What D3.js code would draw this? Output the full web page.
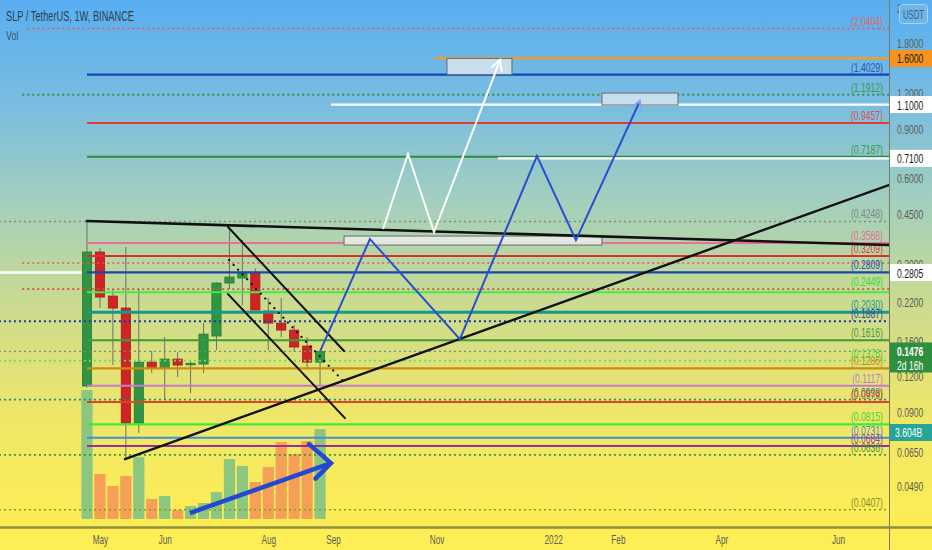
<!DOCTYPE html>
<html><head><meta charset="utf-8">
<script src="https://cdn.jsdelivr.net/npm/d3@7"></script>
<style>
body{margin:0;background:#fdee55;}
svg{display:block;font-family:"Liberation Sans",Arial,sans-serif;}
</style>
</head><body>
<svg id="c" width="932" height="550"></svg>
<script>
// ---------- DATA ----------
const title = "SLP / TetherUS, 1W, BINANCE";
const weekIdx = d3.range(19); // weeks from 2021-04-26
const opens  = [0.1114,0.3314,0.2316,0.2101,0.0824,0.1353,0.1289,0.1387,0.1332,0.1332,0.1673,0.2575,0.2682,0.2793,0.2050,0.1859,0.1756,0.1542,0.1353];
const highs  = [0.4264,0.3423,0.2432,0.3451,0.2452,0.1481,0.1659,0.1469,0.1376,0.1859,0.2596,0.4061,0.3653,0.2900,0.2279,0.2279,0.1829,0.1659,0.1481];
const lows   = [0.1100,0.2101,0.1321,0.0620,0.0760,0.1238,0.0994,0.1198,0.1052,0.1238,0.1493,0.2452,0.2152,0.2067,0.1493,0.1659,0.1469,0.1300,0.1114];
const closes = [0.3314,0.2297,0.2101,0.0824,0.1353,0.1289,0.1387,0.1321,0.1340,0.1700,0.2575,0.2704,0.2793,0.2067,0.1859,0.1756,0.1530,0.1353,0.1476];
const volumes= [5.17,1.80,1.32,1.72,2.48,0.80,0.92,0.36,0.52,0.64,1.08,2.40,2.12,1.48,2.08,3.08,2.60,3.12,3.604]; // billions

const timeTickIdx   = [1,6,14,19,27,36,41,49,58];
const timeTickLabel = ["May","Jun","Aug","Sep","Nov","2022","Feb","Apr","Jun"];
const priceTicks = [2.4,1.8,1.2,0.9,0.6,0.45,0.3,0.22,0.16,0.12,0.09,0.065,0.049];

// horizontal levels (price, label, start week index, end week index)
const levelPrices = [2.0404,1.6000,1.4029,1.1912,1.1000,0.9457,0.7187,0.7100,0.4248,0.3568,0.3209,0.3030,0.2809,0.2805,0.2449,0.2390,0.2030,0.1887,0.1616,0.1476,0.1370,0.1286,0.1117,0.0998,0.0979,0.0815,0.0731,0.0684,0.0636,0.0407];
const levelLabels = ["(2.0404)","","(1.4029)","(1.1912)","","(0.9457)","(0.7187)","","(0.4248)","(0.3568)","(0.3209)","","(0.2809)","","(0.2449)","","(0.2030)","(0.1887)","(0.1616)","","(0.1376)","(0.1286)","(0.1117)","(0.0998)","(0.0979)","(0.0815)","(0.0731)","(0.0684)","(0.0636)","(0.0407)"];
const levelStart  = [-4.6,26.87,0,-5,18.84,0,0,31.74,-6.8,0,0,-5,0,-6.8,-5,0,0,-6.8,0,-6.8,-6.8,0,0,-6.8,0,0,0,0,-6.8,-6.8];
const levelEnd    = [62,62,62,62,62,62,62,62,62,62,62,62,62,-0.4,62,62,62,62,62,62,62,62,62,62,62,62,62,62,62,62];

// trend lines [i1,p1,i2,p2]
const trendTop     = [0,0.4264,61.93,0.3507];
const trendRise    = [2.93,0.0615,61.93,0.5715];
const chanUpper    = [10.89,0.4061,19.85,0.1481];
const chanLower    = [10.89,0.2354,19.92,0.0858];
const chanDotted   = [10.97,0.3105,20.0,0.1132];

// projection paths
const bluePathIdx   = [18,21.85,28.8,34.75,37.76,42.7];
const bluePathPrice = [0.1476,0.3683,0.1632,0.7236,0.3653,1.132];
const whitePathIdx  = [22.86,24.79,26.8,31.9];
const whitePathPrice= [0.3995,0.7355,0.3899,1.580];

// boxes [i1,i2,pTop,pBottom]
const boxes = [[27.8,32.82,1.6,1.4029],[39.77,45.64,1.208,1.0958],[19.85,39.77,0.3774,0.3507]];

// volume arrow (week idx, volume B)
const volArrowIdx = [7.95,18.84];
const volArrowVol = [0.24,2.24];

// axis badges
const badgePrices = [1.6,1.1,0.71,0.2805];
const badgeLabels = ["1.6000","1.1000","0.7100","0.2805"];
const lastPrice = 0.1476, lastLabel = "0.1476", countdown = "2d 16h";
const lastVolLabel = "3.604B";

// ---------- SCALES ----------
const W=932,H=550, plotR=889, plotB=527;
const x = d3.scaleLinear().domain([0,58]).range([87,838]);
const y = d3.scaleLog().domain([1.8,0.049]).range([44,487]);
const yv = d3.scaleLinear().domain([0,3.604]).range([519,429]);

const svg = d3.select("#c");
const defs = svg.append("defs");
const g = defs.append("linearGradient").attr("id","bg").attr("x1",0).attr("y1",0).attr("x2",0).attr("y2",1);
[[0,"#58aef1"],[0.2,"#7abde0"],[0.38,"#a2cfbe"],[0.58,"#cbdb8f"],[0.78,"#eee66a"],[0.96,"#fcec58"],[1,"#fdee55"]]
  .forEach(s=>g.append("stop").attr("offset",s[0]).attr("stop-color",s[1]));
defs.append("clipPath").attr("id","clip").append("rect").attr("x",0).attr("y",0).attr("width",plotR).attr("height",plotB);

svg.append("rect").attr("width",W).attr("height",plotB).attr("fill","url(#bg)");
svg.append("rect").attr("y",plotB).attr("width",W).attr("height",H-plotB).attr("fill","#fdee55");

const plot = svg.append("g").attr("clip-path","url(#clip)");

// volume bars
plot.selectAll("rect.vol").data(weekIdx).join("rect").attr("class","vol")
  .attr("x",i=>x(i)-5.6).attr("width",11.2)
  .attr("y",i=>yv(volumes[i])).attr("height",i=>yv(0)-yv(volumes[i]))
  .attr("fill",i=>closes[i]>=opens[i]?"#8cc67f":"#f5a056");

// candles
const cg = plot.append("g");
cg.selectAll("line").data(weekIdx).join("line")
  .attr("x1",i=>x(i)).attr("x2",i=>x(i)).attr("y1",i=>y(highs[i])).attr("y2",i=>y(lows[i]))
  .attr("stroke","#6f7068").attr("stroke-width",1);
cg.selectAll("rect").data(weekIdx).join("rect")
  .attr("x",i=>x(i)-4.6).attr("width",9.2)
  .attr("y",i=>y(Math.max(opens[i],closes[i])))
  .attr("height",i=>Math.max(1.5,y(Math.min(opens[i],closes[i]))-y(Math.max(opens[i],closes[i]))))
  .attr("fill",i=>closes[i]>=opens[i]?"#319442":"#cf2427")
  .attr("stroke",i=>closes[i]>=opens[i]?"#277a35":"#a81b1e").attr("stroke-width",0.8);

// level styles
const lvColor = ["#e25a5a","#d7a548","#1745b5","#3a8e44","#ffffff","#e33a35","#2f8c3c","#ffffff","#7f8f85","#ea6d9a","#d9302f","#e25a5a","#1a47ad","#ffffff","#e04848","#3ef03e","#159a88","#1c3c9c","#3c9c3c","#7d8878","#5fe35f","#c98f0b","#c67ad0","#1a8a88","#e5431f","#35ee35","#3b93d8","#93309f","#2f9a40","#7f9a30"];
const lvDash  = [1,0,0,1,0,0,0,0,1,0,0,1,0,0,1,0,0,1,0,1,1,0,0,1,0,0,0,0,1,1];
const lvWidth = [1.6,3,2.2,1.8,2.2,2,2,2.2,1.5,2,2,1.6,2.2,2.5,1.8,2,3,2,2,1.2,1.6,2.2,2,1.8,2,2.2,2,2,1.8,1.6];
const lvLabelColor = ["#e06868","","#2a55b5","#3a9a48","","#e05050","#3a9a48","","#7a8a84","#e0709a","#d84040","","#2a50b0","","#3ad83a","","#179a88","#2a4aa8","#4a9a48","","#4ad84a","#c08a20","#c078cc","#1a8a88","#e04a30","#3ad83a","#3a88d0","#9a40aa","#3a9a48","#8a9030"];

// helper: condensed text (scaled horizontally about its anchor)
function narrow(sel,k){
  sel.each(function(){
    const ax = +(this.getAttribute("x")||0);
    this.setAttribute("transform",`translate(${(ax*(1-k)).toFixed(2)},0) scale(${k},1)`);
  });
}

const lg = plot.append("g");
levelPrices.forEach((p,k)=>{
  lg.append("line").attr("x1",x(levelStart[k])).attr("x2",Math.min(plotR,x(levelEnd[k])))
    .attr("y1",y(p)).attr("y2",y(p))
    .attr("stroke",lvColor[k]).attr("stroke-width",lvWidth[k])
    .attr("stroke-dasharray",lvDash[k]?"2,3":null);
});
const lvTexts = [];
levelPrices.forEach((p,k)=>{
  if(!levelLabels[k]) return;
  lvTexts.push(lg.append("text").attr("x",883).attr("y",y(p)-3).attr("text-anchor","end")
    .attr("font-size",12.5).attr("fill",lvLabelColor[k]).text(levelLabels[k]).node());
});
narrow(d3.selectAll(lvTexts),0.69);

// boxes
boxes.forEach(b=>{
  plot.append("rect").attr("x",x(b[0])).attr("width",x(b[1])-x(b[0]))
    .attr("y",y(b[2])).attr("height",y(b[3])-y(b[2]))
    .attr("fill", b[2]<1?"#e4ece4":"#cfe2ee").attr("fill-opacity",0.92)
    .attr("stroke","#6b6b6b").attr("stroke-width",1);
});

// trend lines
const tl = (a,w,dash)=>plot.append("line").attr("x1",x(a[0])).attr("y1",y(a[1])).attr("x2",x(a[2])).attr("y2",y(a[3]))
  .attr("stroke","#111").attr("stroke-width",w).attr("stroke-dasharray",dash||null).attr("stroke-linecap","round");
tl(trendTop,2.6); tl(trendRise,2.4); tl(chanUpper,2); tl(chanLower,2); tl(chanDotted,2.2,"0.1,6.5");

// paths with arrowheads
function arrowPath(xs,ys,color,w,headColor,L1,L2,s1,s2){
  const pts = xs.map((v,k)=>[v,ys[k]]);
  plot.append("path").attr("d",d3.line()(pts)).attr("fill","none").attr("stroke",color)
    .attr("stroke-width",w).attr("stroke-linejoin","miter");
  const [x1,y1]=pts[pts.length-2],[x2,y2]=pts[pts.length-1];
  const a=Math.atan2(y2-y1,x2-x1);
  const h1=[x2-L1*Math.cos(a-s1),y2-L1*Math.sin(a-s1)], h2=[x2-L2*Math.cos(a+s2),y2-L2*Math.sin(a+s2)];
  plot.append("path").attr("d",d3.line()([h1,[x2,y2],h2])).attr("fill","none")
    .attr("stroke",headColor).attr("stroke-width",w).attr("stroke-linejoin","miter").attr("stroke-linecap","round");
}
arrowPath(bluePathIdx.map(x),bluePathPrice.map(y),"#2b4fcf",2,"#8aa6ea",10,10,0.5,0.5);
arrowPath(whitePathIdx.map(x),whitePathPrice.map(y),"#ffffff",2,"#ffffff",11,11,0.5,0.5);
arrowPath(volArrowIdx.map(x),volArrowVol.map(yv),"#2348d3",4.5,"#2348d3",22,29,0.45,1.05);

// axes lines
svg.append("line").attr("x1",plotR+0.5).attr("x2",plotR+0.5).attr("y1",0).attr("y2",H).attr("stroke","#7c7c66").attr("stroke-width",1);
svg.append("line").attr("x1",0).attr("x2",W).attr("y1",plotB+0.5).attr("y2",plotB+0.5).attr("stroke","#8e8f3c").attr("stroke-width",2.5);

// price axis via d3
const pAxis = d3.axisRight(y).tickValues(priceTicks).tickFormat(d3.format(".4f")).tickSize(0).tickPadding(8);
const pa = svg.append("g").attr("transform",`translate(${plotR},0)`).call(pAxis);
pa.select(".domain").remove();
pa.selectAll("text").attr("font-size",12).attr("fill","#5b5d58").attr("font-family","inherit");
narrow(pa.selectAll("text"),0.72);

// time axis via d3
const tAxis = d3.axisBottom(x).tickValues(timeTickIdx).tickFormat((d,k)=>timeTickLabel[k]).tickSize(0).tickPadding(6);
const ta = svg.append("g").attr("transform",`translate(0,${plotB+2})`).call(tAxis);
ta.select(".domain").remove();
ta.selectAll("text").attr("font-size",13).attr("fill","#5b5d58").attr("font-family","inherit");
narrow(ta.selectAll("text"),0.63);

// badges
const bColors=["#f7941d","#ffffff","#ffffff","#ffffff"];
const badgeTexts=[];
badgePrices.forEach((p,k)=>{
  svg.append("rect").attr("x",plotR+1).attr("y",y(p)-8.5).attr("width",W-plotR-1).attr("height",17).attr("fill",bColors[k]);
  badgeTexts.push(svg.append("text").attr("x",plotR+8).attr("y",y(p)+5).attr("font-size",13.5).attr("fill","#1a1a1a").text(badgeLabels[k]).node());
});
svg.append("rect").attr("x",plotR+1).attr("y",y(lastPrice)-9).attr("width",W-plotR-1).attr("height",30).attr("fill","#2e8f3f");
badgeTexts.push(svg.append("text").attr("x",plotR+8).attr("y",y(lastPrice)+5).attr("font-size",13.5).attr("font-weight","bold").attr("fill","#fff").text(lastLabel).node());
badgeTexts.push(svg.append("text").attr("x",plotR+8).attr("y",y(lastPrice)+18.5).attr("font-size",13.5).attr("fill","#fff").text(countdown).node());
svg.append("rect").attr("x",plotR+1).attr("y",yv(3.604)-5).attr("width",W-plotR-1).attr("height",17).attr("fill","#26a69a");
badgeTexts.push(svg.append("text").attr("x",plotR+6).attr("y",yv(3.604)+8.5).attr("font-size",13.5).attr("fill","#fff").text(lastVolLabel).node());
narrow(d3.selectAll(badgeTexts),0.64);

// USDT badge
svg.append("rect").attr("x",plotR+10.5).attr("y",4.5).attr("width",28).attr("height",19).attr("rx",3)
  .attr("fill","#6cb6ea").attr("stroke","#a9d3f2").attr("stroke-width",1);
narrow(svg.append("text").attr("x",plotR+14).attr("y",19).attr("font-size",12.5).attr("fill","#3e5f7e").text("USDT"),0.62);

// title
narrow(svg.append("text").attr("x",6).attr("y",21).attr("font-size",14).attr("fill","#2d3e52").text(title),0.66);
narrow(svg.append("text").attr("x",6).attr("y",40).attr("font-size",13.5).attr("fill","#3e5468").text("Vol"),0.66);
</script>
</body></html>
